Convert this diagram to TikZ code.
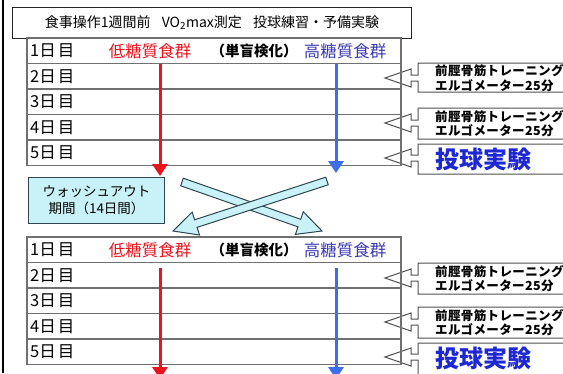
\documentclass[tikz,border=0pt]{standalone}
\usepackage{fontspec}
\newfontfamily\jp{Noto Sans CJK JP}
\usetikzlibrary{calc,arrows.meta}
\definecolor{rowgray}{HTML}{707070}
\definecolor{lowred}{HTML}{E8141E}
\definecolor{hiblue}{HTML}{3A3AB4}
\definecolor{arrblue}{HTML}{3C6EEB}
\definecolor{exblue}{HTML}{1E28D2}
\definecolor{wash}{HTML}{C8F2F8}
\definecolor{washline}{HTML}{2D4650}
\definecolor{callgray}{HTML}{505050}
\tikzset{
  rowbox/.style={draw=rowgray, line width=1.2pt, minimum width=374pt, minimum height=25.5pt, inner sep=0pt, outer sep=0pt, anchor=north west},
  lbl/.style={font=\jp\fontsize{16.5}{16.5}\selectfont, anchor=west, inner sep=0pt},
  grp/.style={font=\jp\fontsize{16.5}{16.5}\selectfont, inner sep=0pt},
  blind/.style={font=\jp\bfseries\fontsize{14.5}{14.5}\selectfont, inner sep=0pt},
  redarr/.style={draw=lowred, line width=3pt, -{Triangle[width=15pt,length=12pt]}},
  bluearr/.style={draw=arrblue, line width=3pt, -{Triangle[width=15pt,length=12pt]}},
  blockarr/.style={draw=washline, fill=wash, line width=1pt, line join=miter},
  callline/.style={draw=callgray, line width=1pt, line join=miter},
  calltext/.style={font=\jp\bfseries\fontsize{12.5}{14.5}\selectfont\addfontfeature{LetterSpace=3}, align=left, anchor=west, inner sep=0pt},
  bigtext/.style={font=\jp\bfseries\fontsize{24}{24}\selectfont, text=exblue, anchor=west, inner sep=0pt},
}
\newcommand{\blockarrow}[3]{%
  \coordinate (#3h) at ($(#2)!24pt!(#1)$);
  \draw[blockarr] ($(#1)!4pt!90:(#2)$) -- ($(#3h)!4pt!90:(#2)$) -- ($(#3h)!12pt!90:(#2)$) -- (#2)
    -- ($(#3h)!12pt!-90:(#2)$) -- ($(#3h)!4pt!-90:(#2)$) -- ($(#1)!4pt!-90:(#2)$) -- cycle;
}
\newcommand{\callout}[3]{%
  \draw[callline] (600,#1) -- (418,#1) -- (418,#3-3) -- (411,#3-3) -- (411,#3-9) -- (385,#3)
    -- (411,#3+9) -- (411,#3+3) -- (418,#3+3) -- (418,#2) -- (600,#2);
}
\begin{document}
\begin{tikzpicture}[x=1pt,y=-1pt]
\useasboundingbox (0,0) rectangle (563,373);
\fill[white] (0,0) rectangle (563,373);
% frame line
\draw[line width=2pt] (3,0) -- (3,373);

% header
\node[draw=black!85, line width=0.9pt, minimum width=399pt, minimum height=31pt, inner sep=0pt, anchor=north west,
      font=\jp\fontsize{14}{14}\selectfont] (hdr) at (12,7) {食事操作1週間前\hspace{0.8em}VO\textsubscript{2}max測定\hspace{0.8em}投球練習・予備実験};

% callouts (table 1)
\callout{63}{92}{78}
\callout{108}{139}{123}
\callout{144}{174}{158}
% callouts (table 2)
\callout{263}{294}{278}
\callout{307}{338}{322}
\callout{343}{380}{357}

% table 1
\foreach \k/\d in {0/1,1/2,2/3,3/4,4/5}{
  \node[rowbox] (a\d) at (27,38+\k*25.5) {};
  \node[lbl] (al\d) at ($(a\d.west)+(3,0)$) {\d 日\hspace{2pt}目};
}
% table 2
\foreach \k/\d in {0/1,1/2,2/3,3/4,4/5}{
  \node[rowbox] (b\d) at (27,237+\k*25.5) {};
  \node[lbl] (bl\d) at ($(b\d.west)+(3,0)$) {\d 日\hspace{2pt}目};
}

% group labels
\node[grp, text=lowred] (alow) at (150,51) {低糖質食群};
\node[blind] (ablind) at (254,51) {（単盲検化）};
\node[grp, text=hiblue] (ahigh) at (345,51) {高糖質食群};
\node[grp, text=lowred] (blow) at (150,250) {低糖質食群};
\node[blind] (bblind) at (254,250) {（単盲検化）};
\node[grp, text=hiblue] (bhigh) at (345,250) {高糖質食群};

% vertical arrows
\coordinate (ar0) at (160,63.5); \coordinate (ar1) at (160,176);
\coordinate (ab0) at (336,63.5); \coordinate (ab1) at (336,173);
\draw[redarr] (ar0) -- (ar1);
\draw[bluearr] (ab0) -- (ab1);
\coordinate (br0) at (160,268); \coordinate (br1) at (160,379);
\coordinate (bb0) at (336,268); \coordinate (bb1) at (336,379);
\draw[redarr] (br0) -- (br1);
\draw[bluearr] (bb0) -- (bb1);

% washout box
\node[draw=washline, fill=wash, line width=1pt, minimum width=136pt, minimum height=46pt, inner sep=0pt, anchor=north west,
      align=center, font=\jp\fontsize{13.5}{17}\selectfont] (wo) at (28,177) {ウォッシュアウト\\期間（14日間）};

% crossing block arrows
\coordinate (xa0) at (182,182); \coordinate (xa1) at (322,231);
\coordinate (xb0) at (327,181); \coordinate (xb1) at (173,231);
\blockarrow{xa0}{xa1}{xa}
\blockarrow{xb0}{xb1}{xb}

% callout texts
\node[calltext] (c1) at (435,78) {前脛骨筋トレーニング\\エルゴメーター25分};
\node[calltext] (c2) at (435,123.5) {前脛骨筋トレーニング\\エルゴメーター25分};
\node[bigtext] (c3) at (435,159) {投球実験};
\node[calltext] (c4) at (435,278.5) {前脛骨筋トレーニング\\エルゴメーター25分};
\node[calltext] (c5) at (435,322.5) {前脛骨筋トレーニング\\エルゴメーター25分};
\node[bigtext] (c6) at (435,358) {投球実験};
\end{tikzpicture}
\end{document}
